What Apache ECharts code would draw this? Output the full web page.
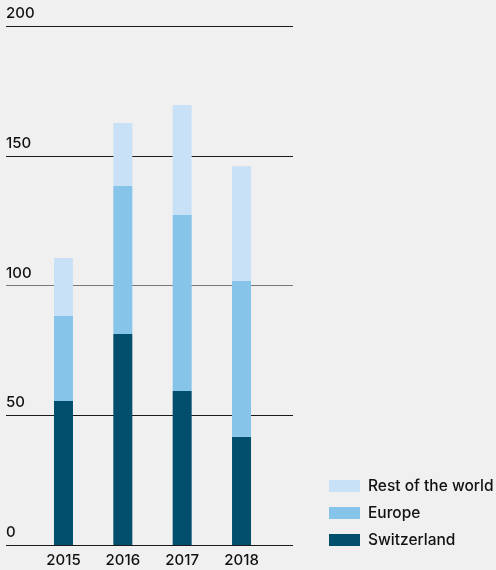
<!DOCTYPE html>
<html lang="en">
<head>
    <meta charset="UTF-8">
    <title>Stacked bars</title>
    <script src="https://cdn.jsdelivr.net/npm/echarts@6/dist/echarts.min.js"></script>
    <style>
        body { margin: 0; background: #f0f0f0; }
    </style>
</head>
<body>
    <div id="main" style="width: 496px;height:570px;"></div>
    <script>
        // data
        var years = ['2015', '2016', '2017', '2018'];
        var switzerland = [55.5, 81.3, 59.3, 41.7];
        var europe = [32.7, 57.0, 67.9, 60.0];
        var restOfWorld = [22.4, 24.3, 42.4, 44.3];
        var yTicks = [0, 50, 100, 150, 200];

        var myChart = echarts.init(document.getElementById('main'));
        var font = 'Inter, "Liberation Sans", sans-serif';

        var option = {
            backgroundColor: '#f0f0f0',
            animation: false,
            textStyle: { fontFamily: font },
            legend: {
                orient: 'vertical',
                left: 329,
                top: 478,
                padding: 0,
                itemWidth: 31,
                itemHeight: 12,
                itemGap: 11,
                icon: 'rect',
                data: ['Rest of the world', 'Europe', 'Switzerland'],
                textStyle: { fontSize: 15.5, fontWeight: 500, color: '#111', padding: [0, 0, 0, 3], fontFamily: font }
            },
            grid: [
                // grid for the horizontal lines
                { left: 6, right: 203, top: 26, bottom: 25 },
                // grid for the bars
                { left: 33.8, right: 224.8, top: 26, bottom: 25 }
            ],
            xAxis: [
                { gridIndex: 0, type: 'value', show: false, min: 0, max: 1 },
                {
                    gridIndex: 1,
                    type: 'category',
                    data: years,
                    axisLine: { show: false },
                    axisTick: { show: false },
                    axisLabel: { color: '#111', fontSize: 15, fontWeight: 500, margin: 8, fontFamily: font }
                }
            ],
            yAxis: [
                {
                    gridIndex: 0,
                    type: 'value',
                    min: yTicks[0],
                    max: yTicks[yTicks.length - 1],
                    interval: 50,
                    axisLine: { show: false },
                    axisTick: { show: false },
                    axisLabel: {
                        inside: true,
                        margin: 0,
                        verticalAlign: 'bottom',
                        padding: [0, 0, 5, 0],
                        color: '#111',
                        fontSize: 15,
                        fontWeight: 500,
                        fontFamily: font
                    },
                    splitLine: {
                        show: true,
                        lineStyle: { color: ['#1a1a1a', '#1a1a1a', '#777777', '#1a1a1a', '#1a1a1a'], width: 1 }
                    }
                },
                { gridIndex: 1, type: 'value', show: false, min: 0, max: 200 }
            ],
            series: [
                {
                    name: 'Switzerland',
                    type: 'bar',
                    stack: 'total',
                    xAxisIndex: 1,
                    yAxisIndex: 1,
                    barWidth: 19,
                    itemStyle: { color: '#024e6d' },
                    data: switzerland
                },
                {
                    name: 'Europe',
                    type: 'bar',
                    stack: 'total',
                    xAxisIndex: 1,
                    yAxisIndex: 1,
                    barWidth: 19,
                    itemStyle: { color: '#87c4ea' },
                    data: europe
                },
                {
                    name: 'Rest of the world',
                    type: 'bar',
                    stack: 'total',
                    xAxisIndex: 1,
                    yAxisIndex: 1,
                    barWidth: 19,
                    itemStyle: { color: '#c9e1f6' },
                    data: restOfWorld
                }
            ]
        };

        myChart.setOption(option);
    </script>
</body>
</html>
